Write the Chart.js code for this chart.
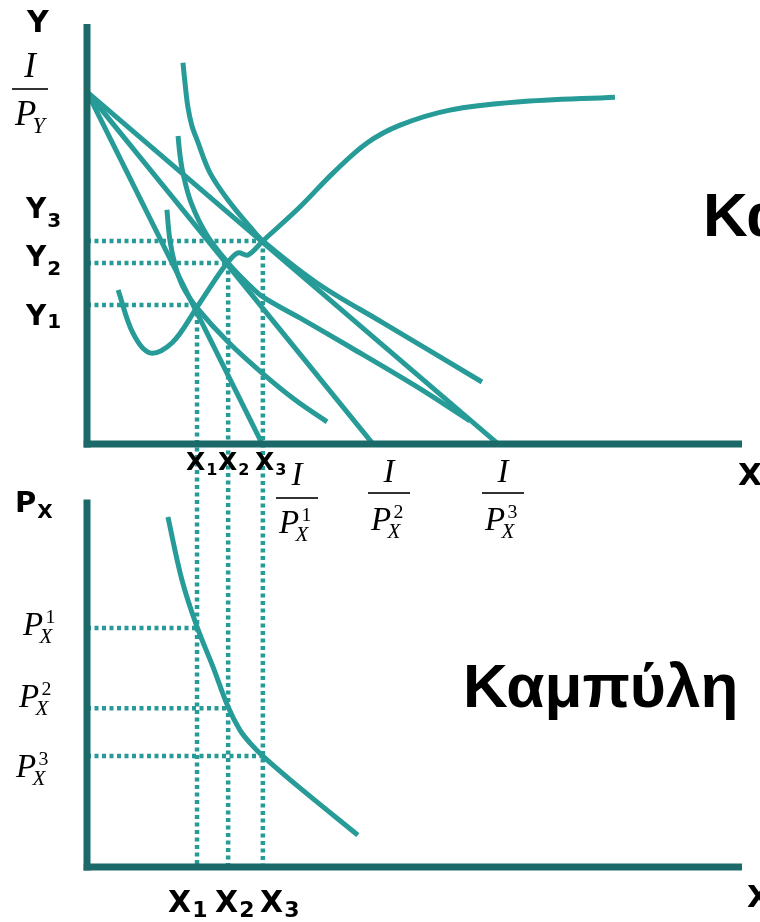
<!DOCTYPE html>
<html>
<head>
<meta charset="utf-8">
<script src="https://cdn.jsdelivr.net/npm/chart.js@4.4.1/dist/chart.umd.min.js"></script>
<style>
  html, body { margin: 0; padding: 0; background: #fff; overflow: hidden; }
  #divchart { position: relative; width: 760px; height: 922px; }
</style>
</head>
<body>
<div id="divchart"><canvas id="chart" width="760" height="922"></canvas></div>
<script>
// quantities and levels (arbitrary units)
const qX = [3.36, 4.31, 5.37];          // X1, X2, X3
const qY = [3.97, 5.17, 5.8];           // Y1, Y2, Y3
const incomeY = 10.06;                  // I / P_Y
const incomeX = [5.35, 8.73, 12.55];    // I / P_X^1, ^2, ^3
const priceX = [6.83, 4.54, 3.17];      // P_X^1, ^2, ^3

// indifference curves
const ic1X = [2.44, 2.53, 2.69, 2.93, 3.36, 4.31, 5.34, 6.35, 7.33];
const ic1Y = [6.69, 5.83, 5.11, 4.49, 3.89, 2.91, 2.03, 1.26, 0.63];
const ic2X = [2.78, 2.84, 2.93, 3.18, 3.66, 4.31, 4.89, 5.37, 6.50, 8.03, 10.08, 11.69];
const ic2Y = [8.80, 8.25, 7.74, 6.89, 5.97, 5.17, 4.60, 4.20, 3.60, 2.77, 1.63, 0.66];
const ic3X = [2.93, 3.00, 3.08, 3.20, 3.36, 3.76, 4.37, 4.98, 5.37, 7.02, 9.04, 12.06];
const ic3Y = [10.89, 10.25, 9.63, 9.10, 8.69, 7.74, 6.89, 6.20, 5.80, 4.60, 3.46, 1.77];

// price-consumption curve
const pccX = [0.95, 1.40, 1.92, 2.60, 3.36, 3.91, 4.31, 4.61, 4.92, 5.37, 6.50, 7.51, 8.55, 9.56, 11.08, 13.13, 16.12];
const pccY = [4.40, 3.17, 2.60, 2.89, 3.91, 4.69, 5.20, 5.46, 5.40, 5.80, 6.77, 7.74, 8.60, 9.11, 9.54, 9.77, 9.91];

// demand curve
const demX = [2.47, 2.90, 3.36, 3.85, 4.31, 4.67, 4.98, 5.37, 6.50, 8.27];
const demP = [10.0, 8.2, 6.86, 5.71, 4.57, 3.91, 3.54, 3.17, 2.26, 0.91];

const TEAL = '#269b97';
const AXIS = '#1b6a69';
const TOP_BASE = -12.09;   // bottom panel's baseline in top panel units

const pts = (xs, ys) => xs.map((x, i) => ({ x: x, y: ys[i] }));

function axisLine(data, yAxisID) {
  return { data: data, yAxisID: yAxisID, borderColor: AXIS, borderWidth: 7, tension: 0 };
}
function curve(data, yAxisID) {
  return { data: data, yAxisID: yAxisID, borderColor: TEAL, borderWidth: 5, tension: 0.35 };
}
function straight(data, yAxisID) {
  return { data: data, yAxisID: yAxisID, borderColor: TEAL, borderWidth: 5, tension: 0 };
}
function guide(data, yAxisID) {
  return { data: data, yAxisID: yAxisID, borderColor: TEAL, borderWidth: 4.5, borderDash: [4, 3.5], tension: 0 };
}

let datasets = [
  axisLine([{ x: 0, y: -0.1 }, { x: 0, y: 12 }], 'y'),
  axisLine([{ x: -0.1, y: 0 }, { x: 20, y: 0 }], 'y'),
  axisLine([{ x: 0, y: -0.1 }, { x: 0, y: 10.5 }], 'yb'),
  axisLine([{ x: -0.1, y: 0 }, { x: 20, y: 0 }], 'yb'),
  curve(pts(ic1X, ic1Y), 'y'),
  curve(pts(ic2X, ic2Y), 'y'),
  curve(pts(ic3X, ic3Y), 'y'),
  curve(pts(pccX, pccY), 'y'),
  curve(pts(demX, demP), 'yb'),
];
incomeX.forEach(ix => datasets.push(straight([{ x: 0, y: incomeY }, { x: ix, y: 0 }], 'y')));
qX.forEach((q, i) => {
  datasets.push(guide([{ x: 0, y: qY[i] }, { x: q, y: qY[i] }], 'y'));
  datasets.push(guide([{ x: q, y: qY[i] }, { x: q, y: TOP_BASE }], 'y'));
  datasets.push(guide([{ x: 0, y: priceX[i] }, { x: q, y: priceX[i] }], 'yb'));
});
datasets.forEach(d => { d.showLine = true; d.pointRadius = 0; d.clip = false; d.fill = false; });

const BOLD = '"DejaVu Sans", Verdana, sans-serif';
const SERIF = '"Liberation Serif", "Times New Roman", serif';

function put(c, txt, x, y, font) {
  c.font = font;
  c.fillText(txt, x, y);
  return c.measureText(txt).width;
}
function boldSub(c, base, s, x, y, size, subSize, dy) {
  const w = put(c, base, x, y, 'bold ' + size + 'px ' + BOLD);
  put(c, s, x + w + 1, y + dy, 'bold ' + subSize + 'px ' + BOLD);
}
function pSym(c, x, y, sub, sup, size) {
  put(c, 'P', x, y, 'italic ' + size + 'px ' + SERIF);
  if (sup) put(c, sup, x + size * 0.68, y - size * 0.35, (size * 0.6) + 'px ' + SERIF);
  put(c, sub, x + size * 0.5, y + size * 0.23, 'italic ' + (size * 0.64) + 'px ' + SERIF);
}
function fraction(c, cx, numY, lineY, half, denY, sub, sup, size) {
  c.textAlign = 'center';
  put(c, 'I', cx, numY, 'italic ' + size + 'px ' + SERIF);
  c.textAlign = 'left';
  c.fillRect(cx - half, lineY - 0.8, half * 2, 1.6);
  pSym(c, cx - half + 3, denY, sub, sup, size);
}

const labels = {
  id: 'labels',
  afterDraw(chart) {
    const c = chart.ctx;
    c.save();
    c.fillStyle = '#000';
    c.textBaseline = 'alphabetic';
    c.textAlign = 'left';

    // top panel
    put(c, 'Y', 27, 32, 'bold 30px ' + BOLD);
    boldSub(c, 'Y', '3', 26, 218, 28, 20, 9);
    boldSub(c, 'Y', '2', 26, 266, 28, 20, 9);
    boldSub(c, 'Y', '1', 26, 325, 28, 20, 3);
    fraction(c, 30, 77, 89, 18, 125, 'Y', '', 35);

    boldSub(c, 'X', '1', 186, 470, 25, 16, 5);
    boldSub(c, 'X', '2', 218, 470, 25, 16, 5);
    boldSub(c, 'X', '3', 255, 470, 25, 16, 5);
    fraction(c, 297, 485, 498, 21, 533, 'X', '1', 33);
    fraction(c, 389, 482, 493, 21, 530, 'X', '2', 33);
    fraction(c, 503, 482, 493, 21, 530, 'X', '3', 33);
    put(c, 'X', 738, 485, 'bold 31px ' + BOLD);
    put(c, 'Καμπύλη', 703, 236, 'bold 62px "Liberation Sans", Arial, sans-serif');

    // bottom panel
    boldSub(c, 'P', 'X', 15, 512, 29, 20, 6);
    pSym(c, 23, 635, 'X', '1', 33);
    pSym(c, 19, 707, 'X', '2', 33);
    pSym(c, 16, 777, 'X', '3', 33);
    boldSub(c, 'X', '1', 168, 912, 30, 22, 5);
    boldSub(c, 'X', '2', 215, 912, 30, 22, 5);
    boldSub(c, 'X', '3', 260, 912, 30, 22, 5);
    put(c, 'X', 747, 907, 'bold 31px ' + BOLD);
    put(c, 'Καμπύλη', 463, 707, 'bold 62px "Liberation Sans", Arial, sans-serif');
    c.restore();
  }
};

let ctx = document.getElementById('chart');
new Chart(ctx, {
  type: 'scatter',
  data: { datasets: datasets },
  options: {
    responsive: false,
    devicePixelRatio: 1,
    animation: false,
    layout: { padding: { left: 87, right: 18, top: 24, bottom: 55 } },
    plugins: { legend: { display: false }, tooltip: { enabled: false } },
    scales: {
      x: { type: 'linear', min: 0, max: 20, display: false },
      y: { type: 'linear', min: TOP_BASE, max: 12, display: false },
      yb: { type: 'linear', min: 0, max: 24.09, display: false }
    }
  },
  plugins: [labels]
});
</script>
</body>
</html>
